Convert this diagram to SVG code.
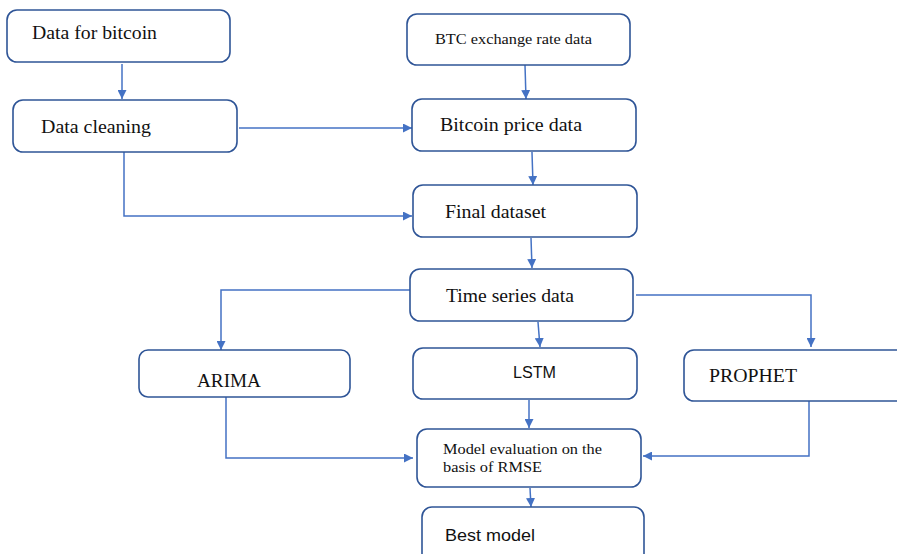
<svg xmlns="http://www.w3.org/2000/svg" width="897" height="554" viewBox="0 0 897 554">
<defs>
<marker id="ah" viewBox="0 0 10 10" refX="10" refY="5" markerWidth="9" markerHeight="9" markerUnits="userSpaceOnUse" orient="auto">
<path d="M0,0 L10,5 L0,10 z" fill="#4472C4"/>
</marker>
<style>
.box{fill:#fff;stroke:#2F5597;stroke-width:1.6}
.t{font-family:"Liberation Serif",serif;font-size:18px;fill:#111}
.ts{font-family:"Liberation Serif",serif;font-size:14px;fill:#111}
.sans{font-family:"Liberation Sans",sans-serif;font-size:16px;fill:#111}
.c{fill:none;stroke:#4472C4;stroke-width:1.5;marker-end:url(#ah)}
</style>
</defs>
<rect width="897" height="554" fill="#fff"/>
<g id="connectors">
<path class="c" d="M122,64 L122,99"/>
<path class="c" d="M239,128 L412,128"/>
<path class="c" d="M124,152 L124,216 L412,216"/>
<path class="c" d="M525,65 L526,99"/>
<path class="c" d="M532,152 L533,185"/>
<path class="c" d="M531,238 L532,268"/>
<path class="c" d="M410,290 L221,290 L221,350"/>
<path class="c" d="M538,322 L540,347"/>
<path class="c" d="M636,295 L811,295 L811,347"/>
<path class="c" d="M809,401 L809,456 L643,456"/>
<path class="c" d="M226,397 L226,458 L413,458"/>
<path class="c" d="M529,400 L529,428"/>
<path class="c" d="M530,488 L531,507"/>
</g>
<g id="n1"><rect class="box" x="7" y="10" width="223" height="52" rx="10"/><text class="t" x="32" y="39" textLength="125" lengthAdjust="spacingAndGlyphs">Data for bitcoin</text></g>
<g id="n2"><rect class="box" x="13" y="100" width="224" height="52" rx="10"/><text class="t" x="41" y="133" textLength="110" lengthAdjust="spacingAndGlyphs">Data cleaning</text></g>
<g id="n3"><rect class="box" x="407" y="14" width="223" height="51" rx="10"/><text class="ts" x="435" y="44" textLength="157" lengthAdjust="spacingAndGlyphs">BTC exchange rate data</text></g>
<g id="n4"><rect class="box" x="412" y="99" width="224" height="52" rx="10"/><text class="t" x="440" y="131" textLength="142" lengthAdjust="spacingAndGlyphs">Bitcoin price data</text></g>
<g id="n5"><rect class="box" x="413" y="185" width="224" height="52" rx="10"/><text class="t" x="445" y="218" textLength="101" lengthAdjust="spacingAndGlyphs">Final dataset</text></g>
<g id="n6"><rect class="box" x="410" y="269" width="223" height="52" rx="10"/><text class="t" x="446" y="302" textLength="128" lengthAdjust="spacingAndGlyphs">Time series data</text></g>
<g id="n7"><rect class="box" x="139" y="350" width="211" height="47" rx="9"/><text class="t" x="197" y="387" textLength="64" lengthAdjust="spacingAndGlyphs">ARIMA</text></g>
<g id="n8"><rect class="box" x="413" y="348" width="224" height="51" rx="10"/><text class="sans" x="513" y="378" textLength="43" lengthAdjust="spacingAndGlyphs">LSTM</text></g>
<g id="n9"><rect class="box" x="684" y="350" width="230" height="51" rx="10"/><text class="t" x="709" y="382" textLength="88" lengthAdjust="spacingAndGlyphs">PROPHET</text></g>
<g id="n10"><rect class="box" x="417" y="429" width="224" height="58" rx="10"/><text class="ts" x="443" y="454" textLength="159" lengthAdjust="spacingAndGlyphs">Model evaluation on the</text><text class="ts" x="443" y="472" textLength="99" lengthAdjust="spacingAndGlyphs">basis of RMSE</text></g>
<g id="n11"><rect class="box" x="422" y="507" width="222" height="60" rx="10"/><text class="sans" x="445" y="541" textLength="90" lengthAdjust="spacingAndGlyphs">Best model</text></g>
</svg>
